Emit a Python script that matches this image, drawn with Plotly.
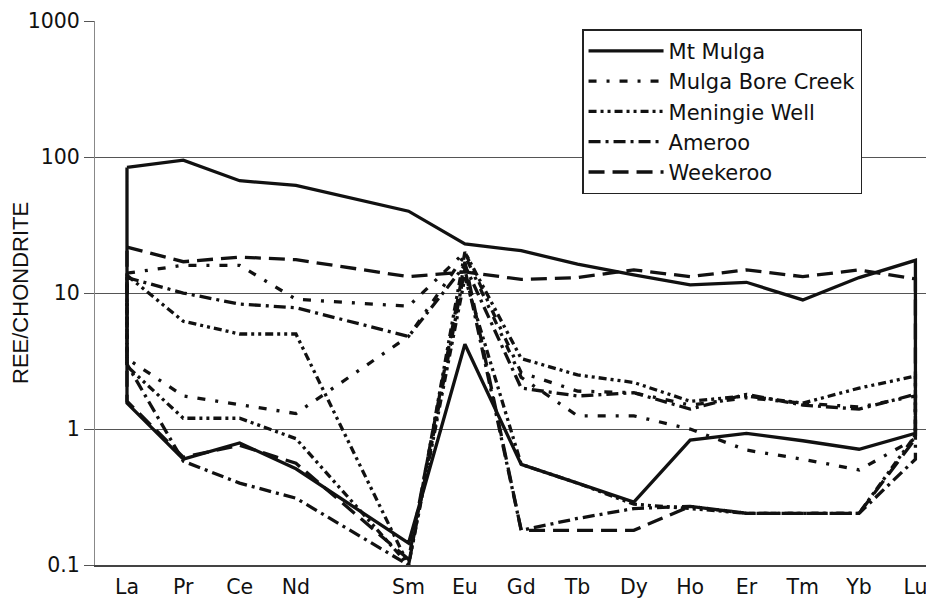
import plotly.graph_objects as go

# Rare-earth elements (Pm omitted, leaving a gap between Nd and Sm)
elements = ["La", "Pr", "Ce", "Nd", "Sm", "Eu", "Gd", "Tb", "Dy", "Ho", "Er", "Tm", "Yb", "Lu"]
positions = [0, 1, 2, 3, 5, 6, 7, 8, 9, 10, 11, 12, 13, 14]

# y-axis ticks
y_tickvals = [0.1, 1, 10, 100, 1000]
y_ticktext = ["0.1", "1", "10", "100", "1000"]

# Envelope (field) boundaries, REE / chondrite
mt_mulga_upper = [84, 95, 67, 62, 40, 23, 20.5, 16.3, 13.6, 11.5, 12, 8.9, 13, 17.4]
mt_mulga_lower = [1.55, 0.60, 0.79, 0.51, 0.145, 4.2, 0.55, 0.40, 0.29, 0.83, 0.93, 0.82, 0.71, 0.93]

mulga_bore_upper = [14, 16, 16, 9, 8, 20, 2.6, 1.9, 1.85, 1.5, 1.7, 1.55, 1.45, 1.75]
mulga_bore_lower = [3.3, 1.75, 1.5, 1.3, 4.8, 19, 2.4, 1.25, 1.25, 1.0, 0.7, 0.6, 0.5, 0.85]

meningie_upper = [13.5, 6.2, 5.0, 5.0, 0.1, 20, 3.3, 2.5, 2.2, 1.6, 1.75, 1.55, 2.0, 2.45]
meningie_lower = [2.9, 1.2, 1.2, 0.85, 0.1, 13, 0.55, 0.40, 0.28, 0.26, 0.24, 0.24, 0.24, 0.9]

ameroo_upper = [13, 10, 8.3, 7.8, 4.8, 16, 2.0, 1.75, 1.85, 1.4, 1.8, 1.5, 1.4, 1.8]
ameroo_lower = [3.0, 0.58, 0.40, 0.31, 0.10, 15, 0.18, 0.22, 0.26, 0.27, 0.24, 0.24, 0.24, 0.6]

weekeroo_upper = [21.8, 17, 18.4, 17.6, 13.2, 14.3, 12.6, 13, 14.8, 13.2, 14.8, 13.2, 14.8, 12.7]
weekeroo_lower = [1.6, 0.62, 0.76, 0.56, 0.11, 17, 0.18, 0.18, 0.18, 0.27, 0.24, 0.24, 0.24, 0.85]

groups = [
    ("Mt Mulga", mt_mulga_upper, mt_mulga_lower, "solid"),
    ("Mulga Bore Creek", mulga_bore_upper, mulga_bore_lower, "8px,10px,3px,10px"),
    ("Meningie Well", meningie_upper, meningie_lower, "8px,4px,3px,4px,3px,4px"),
    ("Ameroo", ameroo_upper, ameroo_lower, "12px,5px,3px,5px"),
    ("Weekeroo", weekeroo_upper, weekeroo_lower, "16px,8px"),
]

FONT = "DejaVu Sans, Liberation Sans, Arial, sans-serif"

fig = go.Figure()
for name, up, low, dash in groups:
    xs = positions + positions[::-1] + [positions[0]]
    ys = up + low[::-1] + [up[0]]
    fig.add_trace(go.Scatter(
        x=xs, y=ys, mode="lines", name=name,
        line=dict(color="#111111", width=3.3, dash=dash),
        hoverinfo="skip",
    ))

# page body has an 8px margin, so the figure is 8px smaller than the window
fig.update_layout(
    width=926, height=593,
    margin=dict(l=87, r=0, t=13, b=36, autoexpand=False),
    plot_bgcolor="white", paper_bgcolor="white",
    font=dict(family=FONT, size=20.5, color="#111111"),
    showlegend=True,
    legend=dict(
        x=0.5805, y=0.985, xanchor="left", yanchor="top",
        bordercolor="#222222", borderwidth=1.5, bgcolor="white",
        font=dict(family=FONT, size=21), itemwidth=75, tracegroupgap=0,
    ),
    annotations=[dict(
        text="REE/CHONDRITE", xref="paper", yref="paper",
        x=-0.0894, y=0.5, xanchor="center", yanchor="middle",
        textangle=-90, showarrow=False,
        font=dict(family="Liberation Sans, Arial, sans-serif", size=22, color="#111111"),
    )],
)
fig.update_xaxes(
    range=[-0.568, 14.33], tickmode="array", tickvals=positions, ticktext=elements,
    showgrid=False, zeroline=False, showline=True, linecolor="#444444", linewidth=2,
    ticks="", tickfont=dict(family=FONT, size=20.5), ticklabelstandoff=2,
)
fig.update_yaxes(
    type="log", range=[-1, 3.0008], tickmode="array",
    tickvals=y_tickvals, ticktext=y_ticktext, ticklabeloverflow="allow",
    showgrid=True, gridcolor="#555555", gridwidth=1.3,
    showline=True, linecolor="#888888", linewidth=1, zeroline=False,
    ticks="outside", ticklen=10, tickcolor="#555555", tickfont=dict(family=FONT, size=20.5),
)

fig.write_html("out.html")
